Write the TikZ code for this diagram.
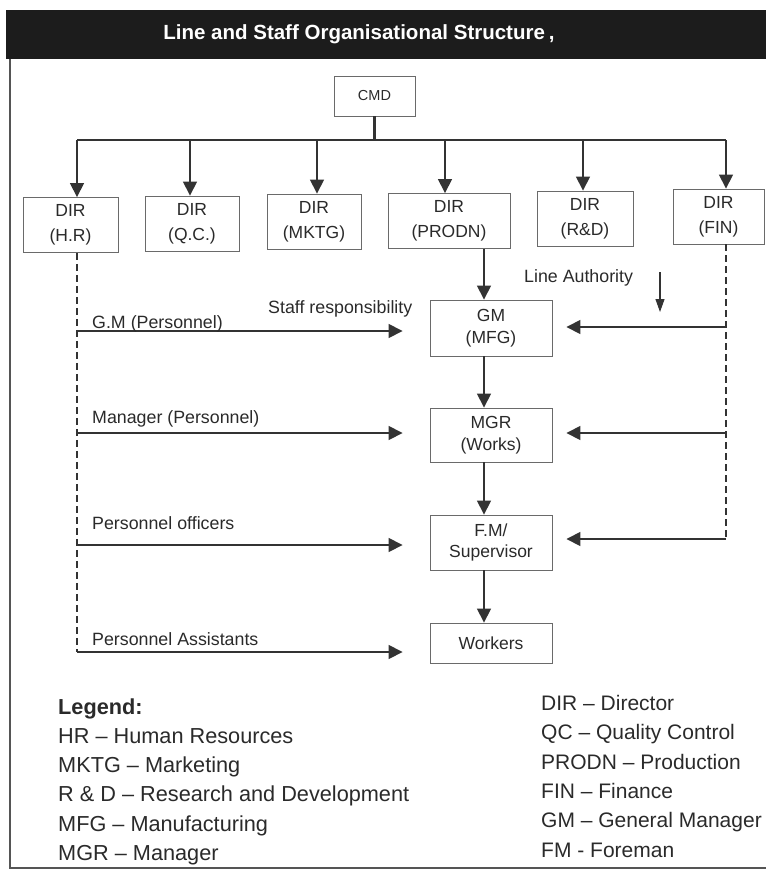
\documentclass[tikz,border=0pt]{standalone}
\usepackage{fontspec}
\setmainfont{Liberation Sans}
\usetikzlibrary{arrows.meta}
\definecolor{linec}{HTML}{333333}
\definecolor{boxc}{HTML}{6A6A6A}
\definecolor{txt}{HTML}{2A2A2A}
\definecolor{bandc}{HTML}{1C1C1C}
\definecolor{framec}{HTML}{555555}
\begin{document}
\begin{tikzpicture}[x=1pt,y=-1pt,
  box/.style={draw=boxc, line width=0.9pt, inner sep=0pt, align=center, text=txt},
  dirbox/.style={box, font=\fontsize{17.5}{25}\selectfont, minimum height=55pt},
  lowbox/.style={box, font=\fontsize{17.5}{21.5}\selectfont, minimum width=122pt},
  arr/.style={draw=linec, line width=1.6pt, -{Triangle[width=14pt,length=14pt]}},
  thinarr/.style={draw=linec, line width=1.1pt, -{Triangle[width=9pt,length=13pt]}},
  busline/.style={draw=linec, line width=2.2pt},
  dashline/.style={draw=linec, line width=1.1pt, dash pattern=on 7pt off 4pt},
  lbl/.style={anchor=west, inner sep=0pt, text=txt, font=\fontsize{17.8}{20}\selectfont, text height=12.5pt, text depth=0pt},
  leg/.style={anchor=west, inner sep=0pt, text=txt, font=\fontsize{21.7}{24}\selectfont, text height=15.5pt, text depth=0pt},
  legr/.style={leg, font=\fontsize{21}{24}\selectfont}
]
\useasboundingbox (0,0) rectangle (766,873);
% header band and frame
\fill[bandc] (6,10) rectangle (766,59);
\node[text=white, font=\bfseries\fontsize{20.5}{24}\selectfont, inner sep=0pt] (title) at (359,34) {Line and Staff Organisational Structure\hspace{4pt},};
\draw[framec, line width=2.4pt] (10,59) -- (10,868) -- (766,868);

% boxes
\node[box, font=\fontsize{14.5}{17}\selectfont, minimum width=81pt, minimum height=40pt] (CMD) at (374.5,96) {CMD};
\node[dirbox, minimum width=95pt] (HR) at (70.5,225) {DIR\\(H.R)};
\node[dirbox, minimum width=94pt] (QC) at (192,223.5) {DIR\\(Q.C.)};
\node[dirbox, minimum width=94pt] (MKTG) at (314,221.5) {DIR\\(MKTG)};
\node[dirbox, minimum width=122pt] (PRODN) at (449,221) {DIR\\(PRODN)};
\node[dirbox, minimum width=96pt] (RD) at (585,218.5) {DIR\\(R\&D)};
\node[dirbox, minimum width=91pt] (FIN) at (718.5,216.5) {DIR\\(FIN)};
\node[lowbox, minimum height=56pt] (GM) at (491,328) {GM\\(MFG)};
\node[lowbox, minimum height=54pt] (MGR) at (491,435) {MGR\\(Works)};
\node[lowbox, minimum height=55pt] (FM) at (491,542.5) {F.M/\\Supervisor};
\node[lowbox, minimum height=40pt] (WK) at (491,643) {Workers};

% bus
\coordinate (c1) at (77,140);
\coordinate (c2) at (190,140);
\coordinate (c3) at (317,140);
\coordinate (c4) at (445,140);
\coordinate (c5) at (583,140);
\coordinate (c6) at (726,140);
\draw[busline] (CMD.south) -- (CMD.south |- c1);
\draw[busline] (c1) -- (c6);
\draw[arr] (c1) -- (HR.north -| c1);
\draw[arr] (c2) -- (QC.north -| c2);
\draw[arr] (c3) -- (MKTG.north -| c3);
\draw[arr] (c4) -- (PRODN.north -| c4);
\draw[arr] (c5) -- (RD.north -| c5);
\draw[arr] (c6) -- (FIN.north -| c6);

% line authority chain
\coordinate (vx) at (484,0);
\draw[arr] (PRODN.south -| vx) -- (GM.north -| vx);
\draw[arr] (GM.south -| vx) -- (MGR.north -| vx);
\draw[arr] (MGR.south -| vx) -- (FM.north -| vx);
\draw[arr] (FM.south -| vx) -- (WK.north -| vx);

% staff lines (left)
\coordinate (l1) at (77,331);
\coordinate (l2) at (77,433);
\coordinate (l3) at (77,545);
\coordinate (l4) at (77,652);
\draw[dashline] (HR.south -| c1) -- (l4);
\draw[arr, shorten >=27pt] (l1) -- (GM.west |- l1);
\draw[arr, shorten >=27pt] (l2) -- (MGR.west |- l2);
\draw[arr, shorten >=27pt] (l3) -- (FM.west |- l3);
\draw[arr, shorten >=27pt] (l4) -- (WK.west |- l4);

% finance lines (right)
\coordinate (r1) at (726,327);
\coordinate (r2) at (726,433);
\coordinate (r3) at (726,539);
\draw[dashline] (FIN.south -| c6) -- (r3);
\draw[arr, shorten >=14pt] (r1) -- (GM.east |- r1);
\draw[arr, shorten >=14pt] (r2) -- (MGR.east |- r2);
\draw[arr, shorten >=14pt] (r3) -- (FM.east |- r3);

% labels
\node[lbl] (la) at (524,276) {Line Authority};
\coordinate (la1) at (660,272);
\coordinate (la2) at (660,312);
\draw[thinarr] (la1) -- (la2);
\node[lbl] (sr) at (268,307) {Staff responsibility};
\node[lbl] (t1) at (92,322) {G.M (Personnel)};
\node[lbl] (t2) at (92,417) {Manager (Personnel)};
\node[lbl] (t3) at (92,523) {Personnel officers};
\node[lbl] (t4) at (92,639) {Personnel Assistants};

% legend
\node[leg, font=\bfseries\fontsize{21.7}{24}\selectfont] (lg0) at (58,707) {Legend:};
\node[leg] (lg1) at (58,736) {HR -- Human Resources};
\node[leg] (lg2) at (58,765) {MKTG -- Marketing};
\node[leg] (lg3) at (58,794) {R \& D -- Research and Development};
\node[leg] (lg4) at (58,824) {MFG -- Manufacturing};
\node[leg] (lg5) at (58,853) {MGR -- Manager};
\node[legr] (lr1) at (541,703) {DIR -- Director};
\node[legr] (lr2) at (541,732) {QC -- Quality Control};
\node[legr] (lr3) at (541,762) {PRODN -- Production};
\node[legr] (lr4) at (541,791) {FIN -- Finance};
\node[legr] (lr5) at (541,820) {GM -- General Manager};
\node[legr] (lr6) at (541,850) {FM - Foreman};
\end{tikzpicture}
\end{document}
